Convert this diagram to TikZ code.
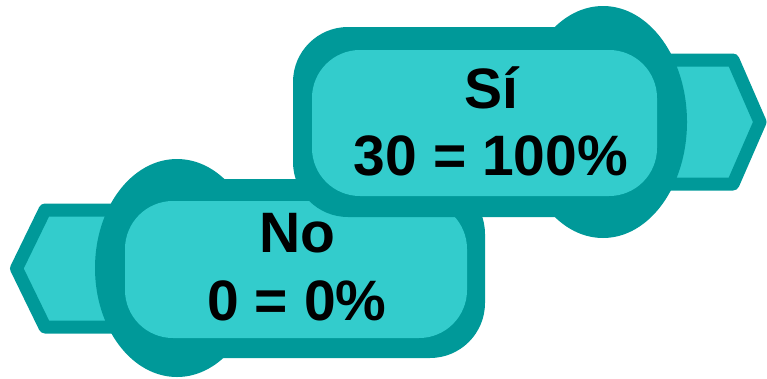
\documentclass[tikz,border=0pt]{standalone}
\usepackage{fontspec}
\setmainfont{Liberation Sans}
\definecolor{tealdark}{RGB}{0,153,153}
\definecolor{teallight}{RGB}{51,204,204}
\tikzset{
  tagarrow/.style={draw=tealdark, fill=teallight, line width=13pt, line join=round},
  bulge/.style={fill=tealdark},
  outerbox/.style={fill=tealdark, rounded corners=55pt},
  innerbox/.style={fill=teallight, rounded corners=48pt},
  lbl/.style={font=\fontsize{57}{68}\selectfont\bfseries, text=black, inner sep=0pt, anchor=base}
}
\begin{document}
\begin{tikzpicture}[x=1pt,y=-1pt]
\useasboundingbox (0,0) rectangle (767,378);
% ---- bottom shape "No"
\draw[tagarrow] (200,210) -- (45,210) -- (16.5,268.5) -- (45,327) -- (200,327) -- cycle;
\fill[bulge] (177,268) ellipse [x radius=82, y radius=109];
\fill[outerbox] (140,179) rectangle (485,358);
\fill[innerbox] (125,201) rectangle (467,338);
\node[lbl] (no1) at (297,252) {No};
\node[lbl] (no2) at (297,320) {0 = 0\%};
% ---- top shape "Si"
\draw[tagarrow] (620,60) -- (733,60) -- (760,122) -- (733,184) -- (620,184) -- cycle;
\fill[bulge] (603,122) ellipse [x radius=84, y radius=116];
\fill[outerbox] (293,27) rectangle (620,217);
\fill[innerbox] (312,50) rectangle (657,196);
\node[lbl] (si1) at (491,108) {Sí};
\node[lbl] (si2) at (491,175) {30 = 100\%};
\end{tikzpicture}
\end{document}
